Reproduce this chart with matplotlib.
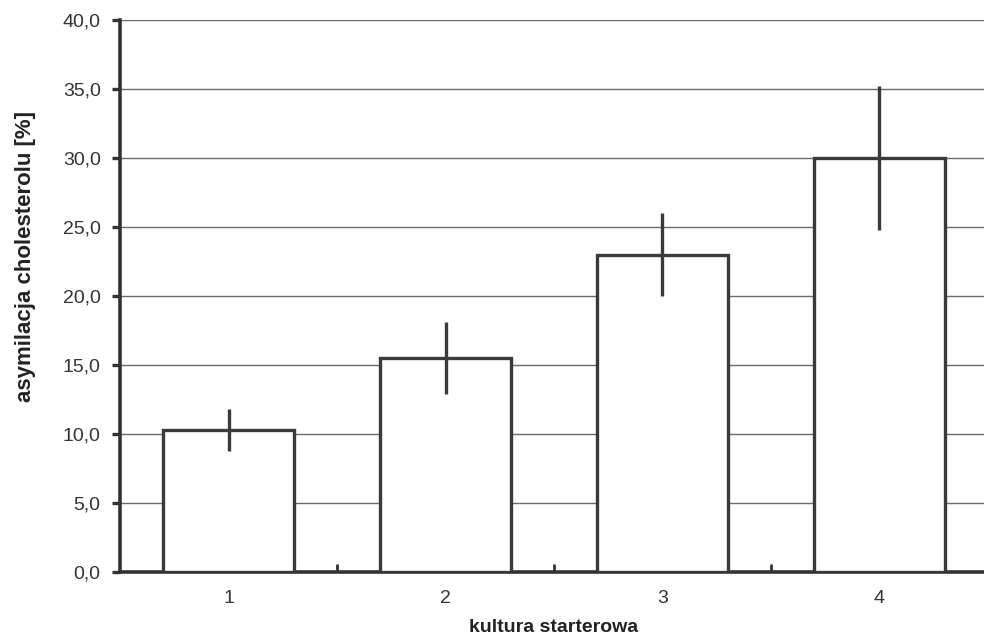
import matplotlib
matplotlib.use('Agg')
from matplotlib import pyplot as plt
from matplotlib.ticker import MultipleLocator, FuncFormatter

# dane
kultury = ['1', '2', '3', '4']
asymilacja = [10.3, 15.5, 23.0, 30.0]
blad = [1.5, 2.6, 3.0, 5.2]

plt.rcParams['font.family'] = ['Liberation Sans', 'DejaVu Sans']

fig = plt.figure(figsize=(9.84, 6.4), dpi=100)
ax = fig.add_axes([0.122, 0.106, 0.882, 0.863])

x = range(len(kultury))
ax.bar(x, asymilacja, width=0.6, color='white', edgecolor='#3a3a3a', linewidth=2.4, zorder=3)
ax.errorbar(x, asymilacja, yerr=blad, fmt='none', ecolor='#3a3a3a', elinewidth=2.4,
            capsize=0, zorder=4)

ax.set_xlim(-0.5, 3.5)
ax.set_ylim(0, 40)
ax.yaxis.set_major_locator(MultipleLocator(5))
ax.yaxis.set_major_formatter(FuncFormatter(lambda v, p: '{:.1f}'.format(v).replace('.', ',')))
ax.set_xticks(list(x))
ax.set_xticklabels(kultury)
ax.set_xticks([0.5, 1.5, 2.5], minor=True)

ax.grid(axis='y', color='#6a6a6a', linewidth=1.0, zorder=0)
ax.set_axisbelow(True)

for s in ['top', 'right']:
    ax.spines[s].set_visible(False)
for s in ['left', 'bottom']:
    ax.spines[s].set_linewidth(2.6)
    ax.spines[s].set_color('#333333')

ax.tick_params(axis='y', direction='out', length=6, width=2.4, color='#333333',
               labelsize=14, labelcolor='#333333', pad=8)
ax.tick_params(axis='x', which='major', length=0, labelsize=14, labelcolor='#333333', pad=13)
ax.tick_params(axis='x', which='minor', direction='in', length=6, width=2, color='#333333')

ax.set_xlabel('kultura starterowa', fontsize=14, fontweight='bold', color='#222222', va='top')
ax.xaxis.set_label_coords(0.5, -0.084)
ax.set_ylabel('asymilacja cholesterolu [%]', fontsize=16, fontweight='bold', color='#222222',
              va='center')
ax.yaxis.set_label_coords(-0.109, 0.572)

plt.savefig('out.png', dpi=100)
